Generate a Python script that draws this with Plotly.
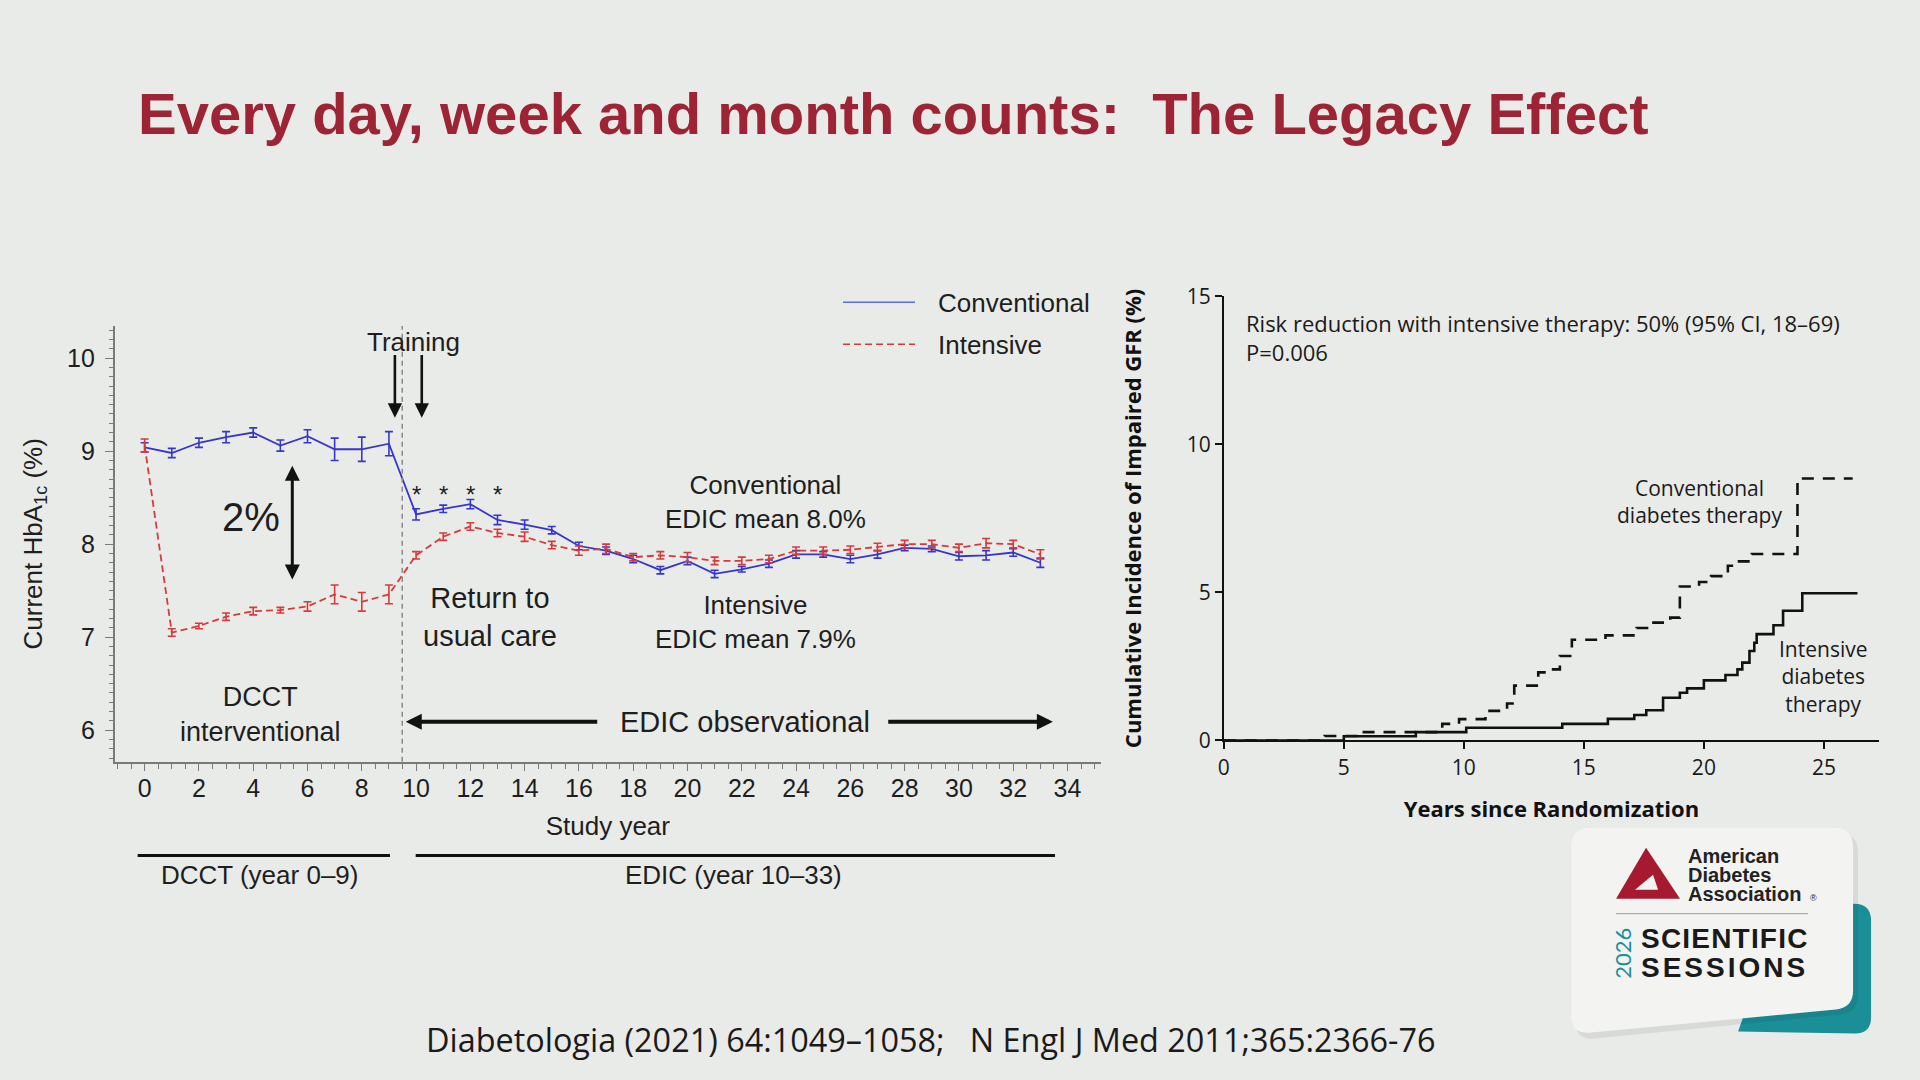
import plotly.graph_objects as go

W, H = 1920, 1080


def X(x):
    # screen position (px, measured on the reference) -> layout position
    return (x - 3.06) / 0.9968


def Y(y):
    return (y - 13.47) / 0.975


def px(x):
    return X(x) / W


def py(y):
    return 1 - Y(y) / H


# ---------------- data: left panel (HbA1c over study years) ----------------
study_year = list(range(34))
conv_hba1c = [9.04, 8.98, 9.09, 9.15, 9.20, 9.06, 9.16, 9.02, 9.02, 9.08,
              8.32, 8.38, 8.43, 8.26, 8.21, 8.15, 7.98, 7.93, 7.84, 7.72,
              7.82, 7.68, 7.73, 7.79, 7.89, 7.89, 7.84, 7.89, 7.96, 7.95,
              7.87, 7.88, 7.91, 7.80]
conv_err = [0.05, 0.05, 0.05, 0.06, 0.05, 0.06, 0.07, 0.12, 0.13, 0.13,
            0.06, 0.04, 0.05, 0.05, 0.05, 0.04, 0.04, 0.04, 0.04, 0.04,
            0.04, 0.04, 0.03, 0.04, 0.04, 0.03, 0.04, 0.04, 0.03, 0.03,
            0.04, 0.05, 0.04, 0.05]
int_hba1c = [9.06, 7.05, 7.12, 7.22, 7.28, 7.29, 7.33, 7.46, 7.38, 7.46,
             7.88, 8.08, 8.19, 8.12, 8.08, 7.99, 7.93, 7.95, 7.86, 7.88,
             7.86, 7.82, 7.82, 7.84, 7.93, 7.93, 7.94, 7.97, 8.00, 8.00,
             7.96, 8.01, 8.00, 7.89]
int_err = [0.07, 0.04, 0.03, 0.04, 0.04, 0.03, 0.05, 0.10, 0.10, 0.10,
           0.04, 0.04, 0.04, 0.04, 0.05, 0.04, 0.05, 0.05, 0.04, 0.04,
           0.05, 0.04, 0.04, 0.04, 0.04, 0.04, 0.04, 0.04, 0.04, 0.04,
           0.04, 0.05, 0.04, 0.05]
star_years = [10, 11, 12, 13]
left_yticks = [6, 7, 8, 9, 10]
left_xticks = list(range(0, 35, 2))

# ---------------- data: right panel (cumulative incidence) ----------------
conv_years = [0, 4.2, 5.7, 9.1, 9.8, 10.9, 11.8, 12.1, 13.1, 13.6, 14.0, 14.5,
              15.9, 17.2, 17.9, 18.6, 19.0, 19.8, 20.3, 21.0, 21.4, 22.0, 23.9, 26.2]
conv_inc = [0, 0.15, 0.28, 0.56, 0.72, 1.0, 1.25, 1.85, 2.3, 2.4, 2.85, 3.4,
            3.55, 3.8, 3.98, 4.15, 5.2, 5.35, 5.55, 5.9, 6.05, 6.3, 8.85, 8.85]
int_years = [0, 5.0, 8.0, 10.1, 14.1, 16.0, 17.1, 17.6, 18.3, 19.0, 19.3, 20.0,
             20.9, 21.4, 21.6, 21.9, 22.1, 22.2, 22.9, 23.3, 24.1, 26.4]
int_inc = [0, 0.14, 0.28, 0.43, 0.56, 0.73, 0.86, 1.02, 1.44, 1.61, 1.76, 2.03,
           2.21, 2.4, 2.63, 3.02, 3.3, 3.59, 3.89, 4.38, 4.97, 4.97]
right_xticks = [0, 5, 10, 15, 20, 25]
right_yticks = [0, 5, 10, 15]

BG = '#e9ebe8'
BLUE = '#3636cc'
RED = '#d83a3a'
AX = '#7a7a7a'
TXT = '#1e1e1e'
ARIAL = 'Liberation Sans'
NEJM = 'Open Sans'
TITLE_RED = '#9c2434'
TEAL = '#1b8f98'

fig = go.Figure()

fig.add_trace(go.Scatter(
    x=study_year, y=conv_hba1c, mode='lines', name='Conventional',
    line=dict(color=BLUE, width=1.8),
    error_y=dict(type='data', array=conv_err, color=BLUE, thickness=1.6, width=4),
    xaxis='x', yaxis='y', showlegend=False))
fig.add_trace(go.Scatter(
    x=study_year, y=int_hba1c, mode='lines', name='Intensive',
    line=dict(color=RED, width=1.8, dash='7px,4px'),
    error_y=dict(type='data', array=int_err, color=RED, thickness=1.6, width=4),
    xaxis='x', yaxis='y', showlegend=False))

fig.add_trace(go.Scatter(
    x=conv_years, y=conv_inc, mode='lines', line_shape='hv',
    name='Conventional diabetes therapy',
    line=dict(color='#111111', width=2.6, dash='12px,9px'),
    xaxis='x2', yaxis='y2', showlegend=False))
fig.add_trace(go.Scatter(
    x=int_years, y=int_inc, mode='lines', line_shape='hv',
    name='Intensive diabetes therapy',
    line=dict(color='#111111', width=2.6),
    xaxis='x2', yaxis='y2', showlegend=False))

left_font = dict(family=ARIAL, size=25, color=TXT)
right_font = dict(family=NEJM, size=21, color='#1a1a1a')

fig.update_layout(
    width=W, height=H, margin=dict(l=0, r=0, t=0, b=0),
    paper_bgcolor=BG, plot_bgcolor='rgba(0,0,0,0)',
    xaxis=dict(domain=[px(111.7), px(1098)], range=[-1.105, 35.235],
               tickvals=left_xticks, ticks='outside', ticklen=7, tickwidth=1.3,
               tickcolor=AX, showline=True, linecolor=AX, linewidth=1.5,
               showgrid=False, zeroline=False, tickfont=left_font, ticklabelstandoff=-4,
               minor=dict(dtick=0.5, tick0=0, ticklen=5, tickcolor=AX, ticks='outside', showgrid=False),
               title=dict(text='Study year', font=dict(family=ARIAL, size=26, color=TXT), standoff=16),
               anchor='y'),
    yaxis=dict(domain=[py(761), py(324.5)], range=[5.66, 10.348],
               tickvals=left_yticks, ticks='outside', ticklen=8, tickwidth=1.3,
               tickcolor=AX, showline=True, linecolor=AX, linewidth=1.5,
               showgrid=False, zeroline=False, tickfont=left_font, ticklabelstandoff=5,
               minor=dict(dtick=0.1, tick0=0, ticklen=4, tickcolor=AX, ticks='outside', showgrid=False),
               title=dict(text='Current HbA<sub>1c</sub> (%)', font=dict(family=ARIAL, size=26, color=TXT), standoff=17),
               anchor='x'),
    xaxis2=dict(domain=[px(1220.8), px(1876)], range=[0, 27.3],
                tickvals=right_xticks, ticks='outside', ticklen=7, tickwidth=1.5,
                tickcolor='#111', showline=True, linecolor='#111', linewidth=1.8,
                showgrid=False, zeroline=False, tickfont=right_font,
                title=dict(text='<b>Years since Randomization</b>', font=dict(family=NEJM, size=22, color='#111'), standoff=22),
                anchor='y2'),
    yaxis2=dict(domain=[py(739.6), py(295.1)], range=[0, 15],
                tickvals=right_yticks, ticks='outside', ticklen=7, tickwidth=1.5,
                tickcolor='#111', showline=True, linecolor='#111', linewidth=1.8,
                showgrid=False, zeroline=False, tickfont=right_font,
                title=dict(text='<b>Cumulative Incidence of Impaired GFR (%)</b>', font=dict(family=NEJM, size=22, color='#111'), standoff=39),
                anchor='x2'),
)

shapes = []
annotations = []

# vertical dashed separator at DCCT/EDIC transition
shapes.append(dict(type='line', xref='x', yref='y', x0=9.49, x1=9.49, y0=5.66, y1=10.348,
                   line=dict(color='#8a8a8a', width=1.5, dash='5px,4px')))

# legend (left panel)
shapes.append(dict(type='line', xref='paper', yref='paper', x0=px(840), x1=px(912), y0=py(301), y1=py(301),
                   line=dict(color='#5b6fd8', width=1.6)))
shapes.append(dict(type='line', xref='paper', yref='paper', x0=px(840), x1=px(912), y0=py(343), y1=py(343),
                   line=dict(color=RED, width=1.6, dash='7px,4px')))
annotations.append(dict(xref='paper', yref='paper', x=px(933), y=py(302), text='Conventional',
                        showarrow=False, xanchor='left', yanchor='middle', font=dict(family=ARIAL, size=26, color=TXT)))
annotations.append(dict(xref='paper', yref='paper', x=px(933), y=py(344), text='Intensive',
                        showarrow=False, xanchor='left', yanchor='middle', font=dict(family=ARIAL, size=26, color=TXT)))

# training arrows
for tx in (9.22, 10.21):
    annotations.append(dict(xref='x', yref='y', axref='x', ayref='y', x=tx, y=9.36, ax=tx, ay=10.05,
                            text='', showarrow=True, arrowhead=2, arrowsize=1.1, arrowwidth=2.6, arrowcolor='#111'))
annotations.append(dict(xref='x', yref='y', x=9.89, y=10.17, text='Training', showarrow=False,
                        xanchor='center', yanchor='middle', font=dict(family=ARIAL, size=26, color=TXT)))

# significance stars
for sy in star_years:
    annotations.append(dict(xref='x', yref='y', x=sy, y=8.53, text='*', showarrow=False,
                            xanchor='center', yanchor='middle', font=dict(family=ARIAL, size=24, color=TXT)))

# 2% double arrow
annotations.append(dict(xref='x', yref='y', axref='x', ayref='y', x=5.44, y=7.62, ax=5.44, ay=8.86,
                        text='', showarrow=True, arrowhead=2, startarrowhead=2, arrowside='end+start',
                        arrowsize=1.0, startarrowsize=1.0, arrowwidth=3, arrowcolor='#111'))
annotations.append(dict(xref='x', yref='y', x=3.91, y=8.29, text='2%', showarrow=False,
                        xanchor='center', yanchor='middle', font=dict(family=ARIAL, size=40, color=TXT)))

annotations.append(dict(xref='x', yref='y', x=22.89, y=8.45, text='Conventional<br>EDIC mean 8.0%',
                        showarrow=False, xanchor='center', yanchor='middle', font=dict(family=ARIAL, size=26, color=TXT)))
annotations.append(dict(xref='x', yref='y', x=22.49, y=7.16, text='Intensive<br>EDIC mean 7.9%',
                        showarrow=False, xanchor='center', yanchor='middle', font=dict(family=ARIAL, size=26, color=TXT)))
annotations.append(dict(xref='x', yref='y', x=12.73, y=7.22, text='Return to<br>usual care',
                        showarrow=False, xanchor='center', yanchor='middle', font=dict(family=ARIAL, size=29, color=TXT)))
annotations.append(dict(xref='x', yref='y', x=4.27, y=6.17, text='DCCT<br>interventional',
                        showarrow=False, xanchor='center', yanchor='middle', font=dict(family=ARIAL, size=27, color=TXT)))
annotations.append(dict(xref='x', yref='y', x=22.13, y=6.09, text='EDIC observational',
                        showarrow=False, xanchor='center', yanchor='middle', font=dict(family=ARIAL, size=29, color=TXT)))
annotations.append(dict(xref='x', yref='y', axref='x', ayref='y', x=9.62, y=6.09, ax=16.73, ay=6.09,
                        text='', showarrow=True, arrowhead=2, arrowsize=0.8, arrowwidth=4, arrowcolor='#111'))
annotations.append(dict(xref='x', yref='y', axref='x', ayref='y', x=33.46, y=6.09, ax=27.34, ay=6.09,
                        text='', showarrow=True, arrowhead=2, arrowsize=0.8, arrowwidth=4, arrowcolor='#111'))

# study period bars under the left chart
shapes.append(dict(type='line', xref='paper', yref='paper', x0=px(134.7), x1=px(387), y0=py(854.7), y1=py(854.7),
                   line=dict(color='#111', width=3)))
shapes.append(dict(type='line', xref='paper', yref='paper', x0=px(412.7), x1=px(1052), y0=py(854.7), y1=py(854.7),
                   line=dict(color='#111', width=3)))
annotations.append(dict(xref='paper', yref='paper', x=px(257), y=py(874.5), text='DCCT (year 0–9)',
                        xanchor='center', yanchor='middle',
                        showarrow=False, font=dict(family=ARIAL, size=26, color=TXT)))
annotations.append(dict(xref='paper', yref='paper', x=px(731), y=py(874.5), text='EDIC (year 10–33)',
                        xanchor='center', yanchor='middle',
                        showarrow=False, font=dict(family=ARIAL, size=26, color=TXT)))

# right panel annotations
annotations.append(dict(xref='x2', yref='y2', x=0.82, y=13.6, xanchor='left', yanchor='middle', align='left',
                        text='Risk reduction with intensive therapy: 50% (95% CI, 18–69)<br>P=0.006',
                        showarrow=False, font=dict(family=NEJM, size=22, color='#1a1a1a')))
annotations.append(dict(xref='x2', yref='y2', x=19.8, y=8.06, text='Conventional<br>diabetes therapy',
                        xanchor='center', yanchor='middle',
                        showarrow=False, font=dict(family=NEJM, size=21, color='#1a1a1a')))
annotations.append(dict(xref='x2', yref='y2', x=25.0, y=2.15, text='Intensive<br>diabetes<br>therapy',
                        xanchor='center', yanchor='middle',
                        showarrow=False, font=dict(family=NEJM, size=21, color='#1a1a1a')))

# slide title and citation
annotations.append(dict(xref='paper', yref='paper', x=px(132.6), y=py(112.5), xanchor='left', yanchor='middle',
                        text='<b>Every day, week and month counts:  The Legacy Effect</b>',
                        showarrow=False, font=dict(family=ARIAL, size=58, color=TITLE_RED)))
annotations.append(dict(xref='paper', yref='paper', x=px(928), y=py(1038), xanchor='center', yanchor='middle',
                        text='Diabetologia (2021) 64:1049–1058;   N Engl J Med 2011;365:2366-76',
                        showarrow=False, font=dict(family=NEJM, size=32.4, color='#1a1a1a')))


# ---------------- ADA logo card (decoration) ----------------
def path(points_cmds):
    out = []
    for cmd, pts in points_cmds:
        coords = ' '.join(f'{px(x):.5f},{py(y):.5f}' for x, y in pts)
        out.append(f'{cmd} {coords}')
    return ' '.join(out) + ' Z'


teal_path = path([('M', [(1735, 1031)]), ('L', [(1852, 1033)]), ('Q', [(1868, 1033), (1868, 1017)]),
                  ('L', [(1868, 920)]), ('Q', [(1868, 903), (1851, 903)]), ('L', [(1780, 903)])])
shapes.append(dict(type='path', xref='paper', yref='paper', path=teal_path,
                   fillcolor=TEAL, line=dict(width=0), layer='above'))

shadow_path = path([('M', [(1592, 832)]), ('L', [(1834, 832)]), ('Q', [(1855, 832), (1855, 852)]),
                    ('L', [(1855, 995)]), ('Q', [(1855, 1012), (1838, 1014)]), ('L', [(1592, 1038)]),
                    ('Q', [(1572, 1040), (1572, 1020)]), ('L', [(1572, 852)]), ('Q', [(1572, 832), (1592, 832)])])
shapes.append(dict(type='path', xref='paper', yref='paper', path=shadow_path,
                   fillcolor='rgba(0,0,0,0.07)', line=dict(width=0), layer='above'))

card_path = path([('M', [(1588, 827)]), ('L', [(1830, 827)]), ('Q', [(1850, 827), (1850, 847)]),
                  ('L', [(1850, 990)]), ('Q', [(1850, 1007), (1833, 1009)]), ('L', [(1588, 1032)]),
                  ('Q', [(1568, 1034), (1568, 1014)]), ('L', [(1568, 847)]), ('Q', [(1568, 827), (1588, 827)])])
shapes.append(dict(type='path', xref='paper', yref='paper', path=card_path,
                   fillcolor='#f3f4f2', line=dict(width=0), layer='above'))

tri_path = path([('M', [(1643, 847)]), ('L', [(1677, 898)]), ('L', [(1613, 898)])])
shapes.append(dict(type='path', xref='paper', yref='paper', path=tri_path,
                   fillcolor='#a6192e', line=dict(width=0), layer='above'))
cut_path = path([('M', [(1632, 889)]), ('L', [(1650, 874)]), ('L', [(1655, 889)])])
shapes.append(dict(type='path', xref='paper', yref='paper', path=cut_path,
                   fillcolor='#f3f4f2', line=dict(width=0), layer='above'))
shapes.append(dict(type='line', xref='paper', yref='paper', x0=px(1613), x1=px(1805), y0=py(913), y1=py(913),
                   line=dict(color='#9a9a9a', width=1), layer='above'))

ada_lines = ['American', 'Diabetes', 'Association']
annotations.append(dict(
    xref='paper', yref='paper', x=px(1683), y=py(874), xanchor='left', yanchor='middle', align='left',
    text='<br>'.join(f'<b><span style="font-size:20px">{t}</span></b>' for t in ada_lines),
    showarrow=False, font=dict(family=ARIAL, size=14.6, color='#222')))
annotations.append(dict(xref='paper', yref='paper', x=px(1810), y=py(897), xanchor='center', yanchor='middle',
                        text='®', showarrow=False, font=dict(family=ARIAL, size=9, color='#222')))
sess_lines = [('SCIENTIFIC', 1.2), ('SESSIONS', 3.0)]
annotations.append(dict(
    xref='paper', yref='paper', x=px(1636), y=py(952.5), xanchor='left', yanchor='middle', align='left',
    text='<br>'.join(f'<b><span style="font-size:28px;letter-spacing:{ls}px">{t}</span></b>' for t, ls in sess_lines),
    showarrow=False, font=dict(family=ARIAL, size=22.3, color='#1a1a1a')))
annotations.append(dict(xref='paper', yref='paper', x=px(1620), y=py(953), xanchor='center', yanchor='middle',
                        text='2026', textangle=-90, showarrow=False, font=dict(family='Lato', size=22, color=TEAL)))

fig.update_layout(shapes=shapes, annotations=annotations)

post = (
    "document.documentElement.style.margin='0';"
    "document.body.style.margin='0';"
    "document.documentElement.style.overflow='hidden';"
    "document.body.style.overflow='hidden';"
    "document.body.style.background='#e9ebe8';"
    "var gd=document.querySelector('.plotly-graph-div');"
    "if(gd){gd.style.position='fixed';gd.style.left='0px';gd.style.top='0px';}"
)
fig.write_html("out.html", config={'displayModeBar': False}, post_script=post)
